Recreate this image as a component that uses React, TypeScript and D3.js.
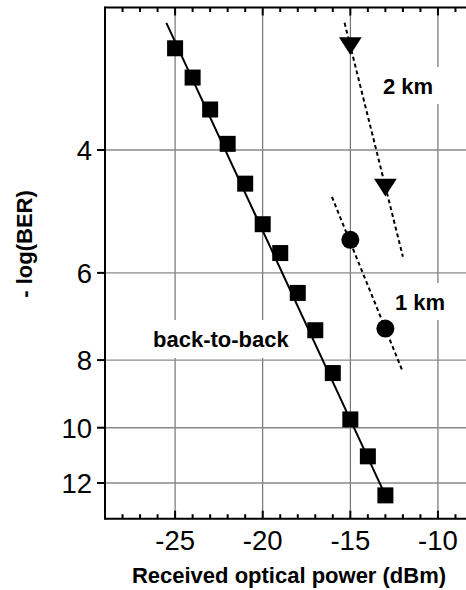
import React from "react";
import * as d3 from "d3";

// ---- data ----
const b2bPower = [-25, -24, -23, -22, -21, -20, -19, -18, -17, -16, -15, -14, -13];
const b2bLogBer = [2.86, 3.15, 3.5, 3.92, 4.47, 5.11, 5.62, 6.41, 7.25, 8.35, 9.73, 10.99, 12.5];
const b2bFitPower = [-25.5, -13];
const b2bFitLogBer = [2.63, 12.5];

const km2Power = [-15, -13];
const km2LogBer = [2.84, 4.53];
const km2FitPower = [-15.33, -12.0];
const km2FitLogBer = [2.63, 5.69];

const km1Power = [-15, -13];
const km1LogBer = [5.38, 7.21];
const km1FitPower = [-16.05, -12.0];
const km1FitLogBer = [4.67, 8.32];

const xTicks = [-25, -20, -15, -10];
const xMinorTicks = d3.range(-29, -8, 1);
const yTicks = [4, 6, 8, 10, 12];

const labels = [
  { text: "2 km", x: 383, y: 94, box: [376, 67, 444, 104] },
  { text: "1 km", x: 395, y: 310, box: [388, 283, 450, 320] },
  { text: "back-to-back", x: 153, y: 347, box: [146, 320, 297, 358] },
];

const W = 466;
const H = 590;
const left = 105;
const right = 473;
const top = 7.5;
const bottom = 518.7;
const FONT = "'Liberation Sans', Arial, Helvetica, sans-serif";

export default function App() {
  const x = d3.scaleLinear().domain([-29, -8]).range([left, right]);
  const y = d3.scaleLog().domain([2.5, 13.5]).range([top, bottom]);

  const line = (xs: number[], ys: number[]) =>
    d3
      .line<number>()
      .x((d, i) => x(xs[i]))
      .y((d, i) => y(ys[i]))(xs) || "";

  const sq = 16;
  const triW = 22.7;
  const triH = 17.7;

  return (
    <div style={{ position: "fixed", left: 0, top: 0, width: W, height: H, overflow: "hidden", background: "#fff" }}>
      <svg width={W} height={H} style={{ display: "block" }}>
        <defs>
          <clipPath id="plotclip">
            <rect x={left} y={top} width={right - left} height={bottom - top} />
          </clipPath>
        </defs>
        {/* grid */}
        <g>
          {xTicks.map((t) => (
            <line key={"gx" + t} x1={x(t)} x2={x(t)} y1={top} y2={bottom} stroke="#5a5a5a" strokeWidth={1} />
          ))}
          {yTicks.map((t) => (
            <line key={"gy" + t} x1={left} x2={W} y1={y(t)} y2={y(t)} stroke="#8a8a8a" strokeWidth={1.4} />
          ))}
        </g>
        {/* label boxes and labels */}
        {labels.map((l) => (
          <g key={l.text}>
            <rect
              x={l.box[0]}
              y={l.box[1]}
              width={l.box[2] - l.box[0]}
              height={l.box[3] - l.box[1]}
              fill="#fff"
            />
            <text x={l.x} y={l.y} fontFamily={FONT} fontWeight="bold" fontSize={22} fill="#000">
              {l.text}
            </text>
          </g>
        ))}
        <g clipPath="url(#plotclip)">
          <path d={line(b2bFitPower, b2bFitLogBer)} fill="none" stroke="#000" strokeWidth={2} />
          <path
            d={line(km2FitPower, km2FitLogBer)}
            fill="none"
            stroke="#000"
            strokeWidth={2}
            strokeDasharray="4 3"
          />
          <path
            d={line(km1FitPower, km1FitLogBer)}
            fill="none"
            stroke="#000"
            strokeWidth={2}
            strokeDasharray="4 3"
          />
          {b2bPower.map((p, i) => (
            <rect
              key={"s" + i}
              x={x(p) - sq / 2}
              y={y(b2bLogBer[i]) - sq / 2}
              width={sq}
              height={sq}
              fill="#000"
            />
          ))}
          {km2Power.map((p, i) => {
            const cx = x(p);
            const cy = y(km2LogBer[i]);
            return (
              <path
                key={"t" + i}
                d={`M${cx - triW / 2},${cy - triH / 2}L${cx + triW / 2},${cy - triH / 2}L${cx},${cy + triH / 2}Z`}
                fill="#000"
              />
            );
          })}
          {km1Power.map((p, i) => (
            <circle key={"c" + i} cx={x(p)} cy={y(km1LogBer[i])} r={9} fill="#000" />
          ))}
        </g>
        {/* axes */}
        <g stroke="#000" strokeWidth={2}>
          <line x1={left} x2={W} y1={bottom} y2={bottom} />
          <line x1={left} x2={W} y1={top} y2={top} />
          <line x1={left} x2={left} y1={top - 1} y2={bottom + 1} />
          {xMinorTicks.map((t) => {
            const major = xTicks.includes(t);
            const len = major ? 8 : 4.5;
            return (
              <g key={"xt" + t}>
                <line x1={x(t)} x2={x(t)} y1={bottom} y2={bottom - len} />
                <line x1={x(t)} x2={x(t)} y1={top} y2={top + len} />
              </g>
            );
          })}
          {yTicks.map((t) => (
            <line key={"yt" + t} x1={left - 8} x2={left} y1={y(t)} y2={y(t)} />
          ))}
        </g>
        {/* tick labels */}
        {xTicks.map((t) => (
          <text key={"xl" + t} x={x(t)} y={550} textAnchor="middle" fontFamily={FONT} fontSize={27.5} fill="#000">
            {t}
          </text>
        ))}
        {yTicks.map((t) => (
          <text
            key={"yl" + t}
            x={92}
            y={y(t)}
            dy="0.36em"
            textAnchor="end"
            fontFamily={FONT}
            fontSize={27.5}
            fill="#000"
          >
            {t}
          </text>
        ))}
        {/* axis titles */}
        <text
          x={(left + right) / 2}
          y={583}
          textAnchor="middle"
          fontFamily={FONT}
          fontWeight="bold"
          fontSize={22}
          fill="#000"
        >
          Received optical power (dBm)
        </text>
        <text
          transform={`translate(31.5,244) rotate(-90)`}
          textAnchor="middle"
          fontFamily={FONT}
          fontWeight="bold"
          fontSize={22}
          fill="#000"
        >
          - log(BER)
        </text>
      </svg>
    </div>
  );
}
